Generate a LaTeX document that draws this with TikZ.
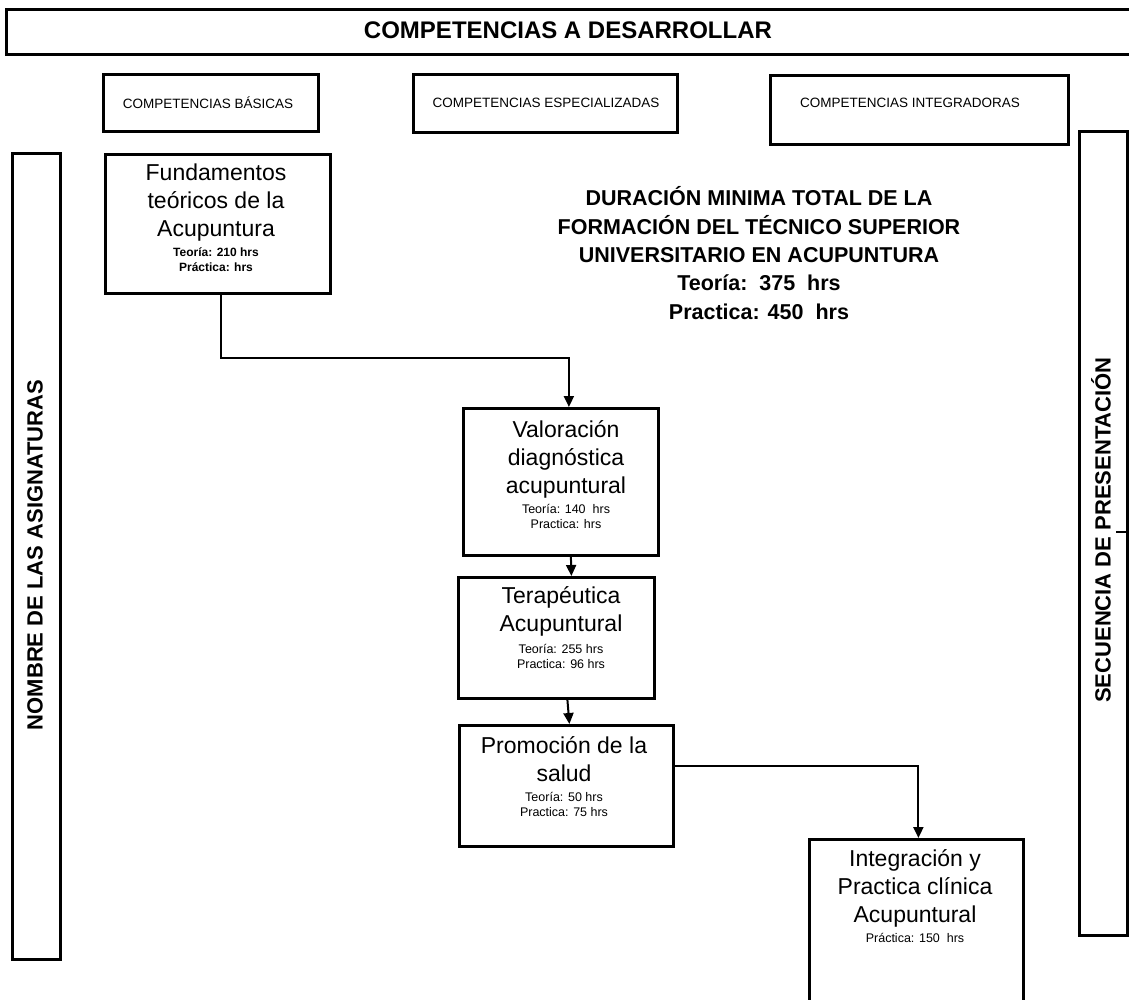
\documentclass[tikz,border=0pt]{standalone}
\usepackage{fontspec}
\setmainfont{Liberation Sans}
\usetikzlibrary{arrows.meta}
\tikzset{
  box/.style={draw, line width=2.8pt, inner sep=0pt, anchor=north west},
  arr/.style={-{Triangle[width=10pt,length=11pt]}, line width=2pt},
  big/.style={font=\fontsize{23}{28}\selectfont, align=center, inner sep=0pt},
  small/.style={font=\fontsize{12.5}{15}\selectfont, align=center, inner sep=0pt},
  smallb/.style={font=\fontsize{12}{15}\bfseries\selectfont, align=center, inner sep=0pt},
  comp/.style={font=\fontsize{13.5}{16}\selectfont, inner sep=0pt},
  head/.style={font=\fontsize{24}{28}\bfseries\selectfont, inner sep=0pt},
  side/.style={font=\fontsize{22}{24}\bfseries\selectfont, inner sep=0pt, rotate=90},
  title/.style={font=\fontsize{21.5}{28.3}\bfseries\selectfont, align=center, inner sep=0pt}
}
\begin{document}
\begin{tikzpicture}[x=1pt,y=-1pt]
\useasboundingbox[fill=white] (0,0) rectangle (1129,1000);
\clip (0,0) rectangle (1129,1000);
% header
\node[box, minimum width=1140pt, minimum height=45pt] (top) at (5,8) {};
\node[head] (toptxt) at (568,30) {COMPETENCIAS A DESARROLLAR};
% competence boxes
\node[box, minimum width=215pt, minimum height=57pt] (basic) at (102,73) {};
\node[comp] (basictxt) at (208,103) {COMPETENCIAS BÁSICAS};
\node[box, minimum width=264pt, minimum height=58pt] (espec) at (412,73) {};
\node[comp] (espectxt) at (546,103) {COMPETENCIAS ESPECIALIZADAS};
\node[box, minimum width=298pt, minimum height=69pt] (integ) at (769,74) {};
\node[comp] (integtxt) at (910,103) {COMPETENCIAS INTEGRADORAS};
% side boxes
\node[box, minimum width=48pt, minimum height=806pt] (left) at (11,152) {};
\node[side] (lefttxt) at (35,555) {NOMBRE DE LAS ASIGNATURAS};
\node[box, minimum width=48pt, minimum height=804pt] (right) at (1078,130) {};
\node[side] (righttxt) at (1101,530) {SECUENCIA DE PRESENTACIÓN};
\coordinate (tickA) at (1116,532);
\coordinate (tickB) at (1135,532);
\draw[line width=2.2pt] (tickA) -- (tickB);
% title
\node[title] (title) at (759,253) {DURACIÓN MINIMA TOTAL DE LA\\FORMACIÓN DEL TÉCNICO SUPERIOR\\UNIVERSITARIO EN ACUPUNTURA\\Teoría:~~375~~hrs\\Practica: 450~~hrs};
% subject boxes
\node[box, minimum width=225pt, minimum height=139pt] (fund) at (104,153) {};
\node[big] (fundt) at (216,203) {Fundamentos\\teóricos de la\\Acupuntura};
\node[smallb] (fundh) at (216,260) {Teoría: 210 hrs\\Práctica: hrs};

\node[box, minimum width=195pt, minimum height=147pt] (val) at (462,407) {};
\node[big] (valt) at (566,459) {Valoración\\diagnóstica\\acupuntural};
\node[small] (valh) at (566,516) {Teoría: 140~~hrs\\Practica: hrs};

\node[box, minimum width=196pt, minimum height=121pt] (ter) at (457,576) {};
\node[big] (tert) at (561,611) {Terapéutica\\Acupuntural};
\node[small] (terh) at (561,656) {Teoría: 255 hrs\\Practica: 96 hrs};

\node[box, minimum width=214pt, minimum height=121pt] (prom) at (458,724) {};
\node[big] (promt) at (564,759) {Promoción de la\\salud};
\node[small] (promh) at (564,804) {Teoría: 50 hrs\\Practica: 75 hrs};

\node[box, minimum width=214pt, minimum height=180pt] (int) at (808,838) {};
\node[big] (intt) at (915,888) {Integración y\\Practica clínica\\Acupuntural};
\node[small] (inth) at (915,938) {Práctica: 150~~hrs};

% connectors
\draw[arr] ([xshift=3pt]fund.south) -- ++(0,63) -| ([xshift=8pt]val.north);
\draw[arr] ([xshift=10pt]val.south) -- ([xshift=15pt]ter.north);
\draw[arr] ([xshift=11pt]ter.south) -- ([xshift=3pt]prom.north);
\draw[arr] ([yshift=19.5pt]prom.east) -| ([xshift=2pt]int.north);
\end{tikzpicture}
\end{document}
